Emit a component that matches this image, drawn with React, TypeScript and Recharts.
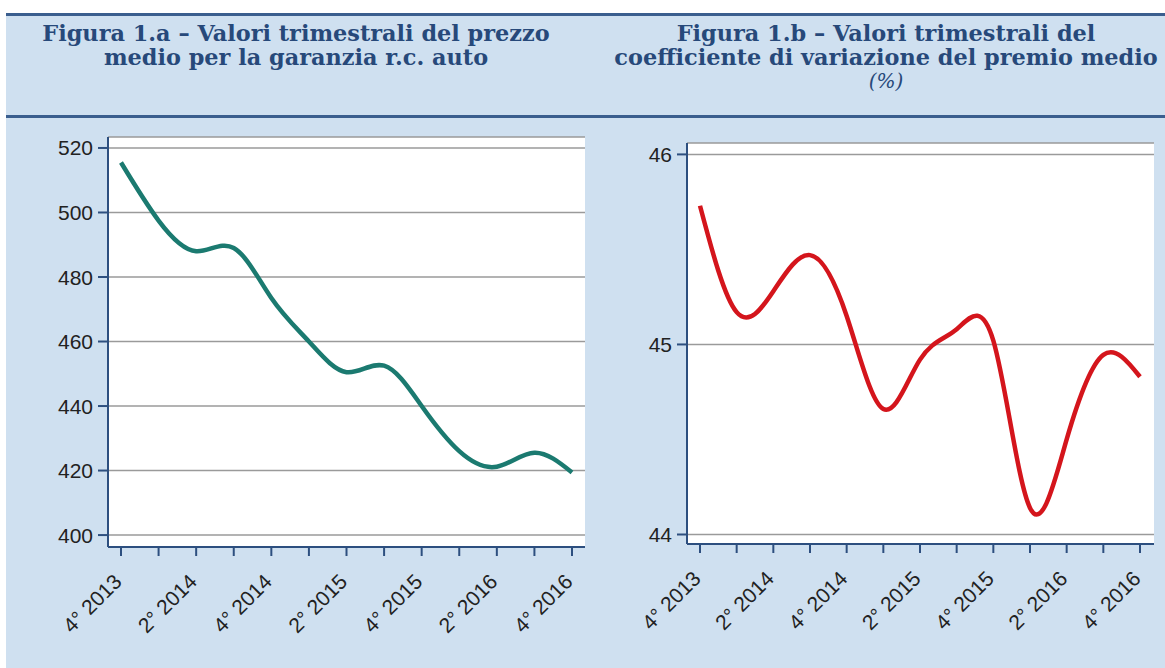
import React from "react";
import {
  LineChart,
  Line,
  XAxis,
  YAxis,
  CartesianGrid,
} from "recharts";

const quarters = [
  "4° 2013", "1° 2014", "2° 2014", "3° 2014", "4° 2014",
  "1° 2015", "2° 2015", "3° 2015", "4° 2015",
  "1° 2016", "2° 2016", "3° 2016", "4° 2016",
];
const labelledQuarters = ["4° 2013", "2° 2014", "4° 2014", "2° 2015", "4° 2015", "2° 2016", "4° 2016"];

const prezzoMedio = [515.5, 497.5, 488, 489, 473.5, 460, 450.5, 452.5, 440, 426, 421.2, 425.5, 419.4];
const coeffVariazione = [45.73, 45.17, 45.28, 45.47, 45.15, 44.66, 44.92, 45.08, 45.02, 44.14, 44.5, 44.945, 44.83];

const prezzoTicks = [400, 420, 440, 460, 480, 500, 520];
const coeffTicks = [44, 45, 46];

const titleA = ["Figura 1.a – Valori trimestrali del prezzo", "medio per la garanzia r.c. auto"];
const titleB = ["Figura 1.b – Valori trimestrali del", "coefficiente di variazione del premio medio"];
const titleBUnit = "(%)";

const dataA = quarters.map((q, i) => ({ q, v: prezzoMedio[i] }));
const dataB = quarters.map((q, i) => ({ q, v: coeffVariazione[i] }));

const BG = "#cfe0f0";
const FRAME = "#2d4f7f";
const GRID = "#9a9a9a";
const TITLE = "#27497a";
const AXIS_FONT = "'Liberation Sans', Arial, sans-serif";

const XTick = (props: any) => {
  const { x, y, payload } = props;
  if (!labelledQuarters.includes(payload.value)) return null;
  const ax = x + 2;
  const ay = y + 25;
  return (
    <text
      x={ax}
      y={ay}
      textAnchor="end"
      transform={`rotate(-45, ${ax}, ${ay})`}
      fill="#222"
      fontSize={21}
      fontFamily={AXIS_FONT}
    >
      {payload.value}
    </text>
  );
};

const YTick = (props: any) => {
  const { x, y, payload } = props;
  return (
    <text
      x={x}
      y={y}
      dy={7.5}
      textAnchor="end"
      fill="#222"
      fontSize={21}
      fontFamily={AXIS_FONT}
    >
      {payload.value}
    </text>
  );
};

type PanelProps = {
  data: { q: string; v: number }[];
  domain: [number, number];
  ticks: number[];
  color: string;
  left: number;
  width: number;
  top: number;
  bottom: number;
  yAxisWidth: number;
  rightMargin: number;
  padL: number;
  padR: number;
};

const Panel = ({ data, domain, ticks, color, left, width, top, bottom, yAxisWidth, rightMargin, padL, padR }: PanelProps) => (
  <div style={{ position: "absolute", left, top: 0 }}>
    <LineChart
      width={width}
      height={668}
      data={data}
      margin={{ top, right: rightMargin, bottom: 0, left: 0 }}
    >
      <CartesianGrid
        horizontal
        vertical={false}
        stroke={GRID}
        strokeWidth={1.5}
        fill="#ffffff"
        fillOpacity={1}
      />
      <XAxis
        dataKey="q"
        interval={0}
        height={668 - bottom}
        padding={{ left: padL, right: padR }}
        axisLine={{ stroke: FRAME, strokeWidth: 2 }}
        tickLine={{ stroke: FRAME, strokeWidth: 2 }}
        tickSize={9}
        tick={<XTick />}
      />
      <XAxis
        xAxisId="top"
        dataKey="q"
        orientation="top"
        height={0}
        axisLine={{ stroke: FRAME, strokeWidth: 2 }}
        tickLine={false}
        tick={false}
      />
      <YAxis
        type="number"
        domain={domain}
        ticks={ticks}
        allowDataOverflow
        width={yAxisWidth}
        axisLine={{ stroke: FRAME, strokeWidth: 2 }}
        tickLine={{ stroke: FRAME, strokeWidth: 2 }}
        tickSize={10}
        tickMargin={5}
        tick={<YTick />}
      />
      <YAxis
        yAxisId="right"
        orientation="right"
        type="number"
        domain={domain}
        allowDataOverflow
        width={0}
        axisLine={{ stroke: FRAME, strokeWidth: 2 }}
        tickLine={false}
        tick={false}
      />
      <Line
        type="natural"
        dataKey="v"
        stroke={color}
        strokeWidth={4.5}
        dot={false}
        isAnimationActive={false}
      />
    </LineChart>
  </div>
);

const titleStyle: React.CSSProperties = {
  position: "absolute",
  top: 21,
  textAlign: "center",
  fontFamily: "'DejaVu Serif', 'Liberation Serif', serif",
  fontWeight: "bold",
  fontSize: 22.4,
  letterSpacing: "0px",
  lineHeight: "24px",
  color: TITLE,
  whiteSpace: "nowrap",
};

export default function App() {
  return (
    <div style={{ position: "absolute", left: 0, top: 0, width: 1165, height: 668, background: "#ffffff", overflow: "hidden" }}>
      <div style={{ position: "absolute", left: 6, top: 14, width: 1159, height: 654, background: BG }} />
      <div style={{ position: "absolute", left: 6, top: 13, width: 1159, height: 3, background: "#3a5e8e" }} />
      <div style={{ position: "absolute", left: 6, top: 115, width: 1159, height: 3, background: "#3a5e8e" }} />
      <div style={{ ...titleStyle, left: 6, width: 580 }}>
        {titleA.map((t) => (
          <div key={t}>{t}</div>
        ))}
      </div>
      <div style={{ ...titleStyle, left: 600, width: 572 }}>
        {titleB.map((t) => (
          <div key={t}>{t}</div>
        ))}
        <div style={{ fontStyle: "italic", fontWeight: "normal", fontSize: 20 }}>{titleBUnit}</div>
      </div>
      <Panel
        data={dataA}
        domain={[396.3, 523.4]}
        ticks={prezzoTicks}
        color="#1b7a70"
        left={0}
        width={600}
        top={137}
        bottom={547}
        yAxisWidth={108}
        rightMargin={15}
        padL={13}
        padR={13}
      />
      <Panel
        data={dataB}
        domain={[43.95, 46.06]}
        ticks={coeffTicks}
        color="#d4151c"
        left={590}
        width={575}
        top={143}
        bottom={544}
        yAxisWidth={97}
        rightMargin={11}
        padL={13}
        padR={14}
      />
    </div>
  );
}
